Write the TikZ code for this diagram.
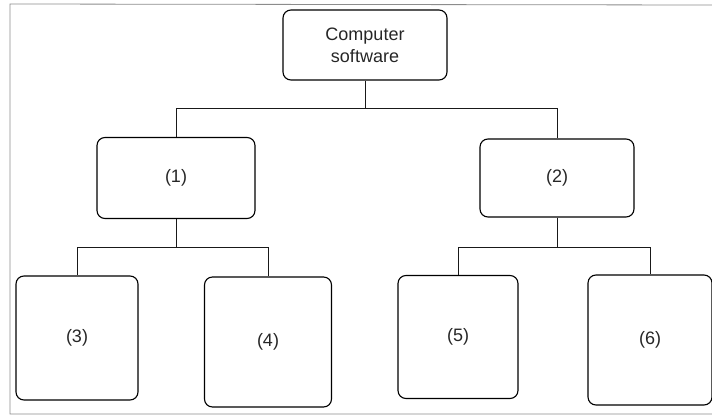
\documentclass[tikz,border=0pt]{standalone}
\usepackage{fontspec}
\setmainfont{Liberation Sans}
\usepackage{tikz}

\tikzset{
    box/.style={shape=rectangle,draw=black,line width=1.1pt,rounded corners=8pt,
        align=center,text=black!85,font=\fontsize{18}{22}\selectfont,inner sep=0pt},
    link/.style={draw=black!90,line width=0.9pt}
}

\begin{document}
\begin{tikzpicture}[x=1pt,y=-1pt]
    \useasboundingbox (0,0) rectangle (712,415);
    \draw[black!45,line width=0.8pt] (712,5) -- (10,4) -- (10,414) -- (712,414);
    \node[box,minimum width=164pt,minimum height=70pt] (S) at (365,45) {Computer\\software};
    \node[box,minimum width=158pt,minimum height=81pt] (A) at (176,178) {(1)};
    \node[box,minimum width=154pt,minimum height=78pt] (B) at (557,178) {(2)};
    \node[box,minimum width=122pt,minimum height=124pt] (C) at (77,338) {(3)};
    \node[box,minimum width=127pt,minimum height=130pt] (D) at (268,342) {(4)};
    \node[box,minimum width=120pt,minimum height=123pt] (E) at (458,337) {(5)};
    \node[box,minimum width=124pt,minimum height=130pt] (F) at (650,340) {(6)};
    \coordinate (SJ) at (365,108);
    \coordinate (AJ) at (176,247);
    \coordinate (BJ) at (557,247);
    \path [link] (S) -- (SJ);
    \path [link] (SJ) -| (A);
    \path [link] (SJ) -| (B);
    \path [link] (A) -- (AJ);
    \path [link] (AJ) -| (C);
    \path [link] (AJ) -| (D);
    \path [link] (B) -- (BJ);
    \path [link] (BJ) -| (E);
    \path [link] (BJ) -| (F);
\end{tikzpicture}
\end{document}
